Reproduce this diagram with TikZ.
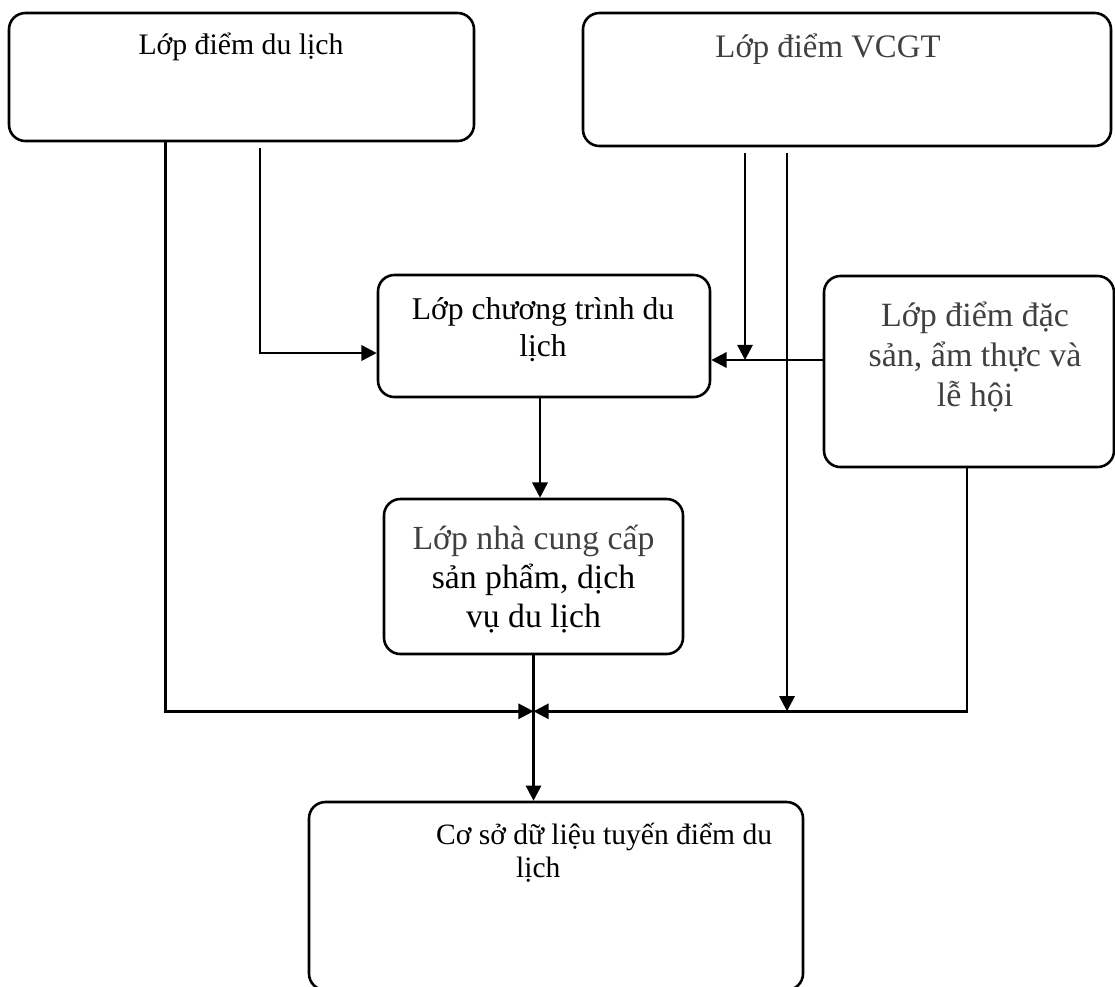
\documentclass[tikz,border=0pt]{standalone}
\usepackage{fontspec}
\setmainfont{Liberation Serif}
\usetikzlibrary{calc, arrows.meta}
\definecolor{txtgray}{HTML}{404040}

\begin{document}
\begin{tikzpicture}[x=0.015cm, y=-0.015cm,
		box/.style={draw, line width=1.1pt, rounded corners=7pt, inner sep=0pt},
		link/.style={line width=1.1pt, -{Triangle[length=6.5pt, width=6.5pt]}},
		label text/.style={inner sep=0pt, align=center}]
		\useasboundingbox (0,0) rectangle (1115,986);
		
		% boxes
		\node [box, minimum width=6.975cm, minimum height=1.92cm] (diem du lich) at (241.5,77) {};
		\node [box, minimum width=7.92cm, minimum height=1.995cm] (diem vcgt) at (847,79.5) {};
		\node [box, minimum width=4.98cm, minimum height=1.83cm] (chuong trinh) at (544,336) {};
		\node [box, minimum width=4.35cm, minimum height=2.865cm] (dac san) at (969,371.5) {};
		\node [box, minimum width=4.485cm, minimum height=2.325cm] (nha cung cap) at (533.5,576.5) {};
		\node [box, minimum width=7.41cm, minimum height=2.82cm] (co so du lieu) at (556,896) {};
		
		% texts
		\node [label text, font=\fontsize{12.7}{14.5}\selectfont] (diem du lich text) at ($(diem du lich.north)+(-0.5,35)$) {Lớp điểm du lịch};
		\node [label text, font=\fontsize{14}{16.5}\selectfont, text=txtgray] (diem vcgt text) at ($(diem vcgt.north)+(-19,37)$) {Lớp điểm VCGT};
		\node [label text, font=\fontsize{13.5}{15.5}\selectfont] (chuong trinh text) at ($(chuong trinh.center)+(-1,-6.5)$) {Lớp chương trình du\\lịch};
		\node [label text, font=\fontsize{14.5}{17}\selectfont, text=txtgray] (dac san text) at ($(dac san.center)+(6,-14.5)$) {Lớp điểm đặc\\sản, ẩm thực và\\lễ hội};
		\node [label text, font=\fontsize{14.4}{16.5}\selectfont] (nha cung cap text) at ($(nha cung cap.center)+(0,2.5)$) {\textcolor{txtgray}{Lớp nhà cung cấp}\\sản phẩm, dịch\\vụ du lịch};
		\node [inner sep=0pt, align=left, anchor=north west, font=\fontsize{12.6}{14.2}\selectfont] (co so text) at ($(co so du lieu.north west)+(128,22)$) {Cơ sở dữ liệu tuyến điểm du\\\hspace*{1.2cm}lịch};
		
		% connectors
		\coordinate (junction) at ($(nha cung cap.south)+(0,56)$);
		\coordinate (dac san in) at ($(chuong trinh.east)+(0,24)$);
		\coordinate (vcgt a) at ($(diem vcgt.south)+(-102,6)$);
		\coordinate (vcgt b) at ($(diem vcgt.south)+(-60,6)$);
		
		\draw [link] ($(diem du lich.south)+(-76,0)$) |- (junction);
		\draw [link] ($(diem du lich.south)+(18.5,6)$) |- ($(chuong trinh.west)+(0,17)$);
		\draw [link] ($(dac san.west)+(0,-11.5)$) -- (dac san in);
		\draw [link] (vcgt a) -- (vcgt a |- dac san in);
		\draw [link] (vcgt b) -- (vcgt b |- junction);
		\draw [link] ($(dac san.south)+(-2,0)$) |- (junction);
		\draw [link] ($(chuong trinh.south)+(-4,0)$) -- ($(chuong trinh.south |- nha cung cap.north)+(-4,0)$);
		\draw [link] (nha cung cap.south) -- (nha cung cap.south |- co so du lieu.north);
	\end{tikzpicture}
\end{document}
